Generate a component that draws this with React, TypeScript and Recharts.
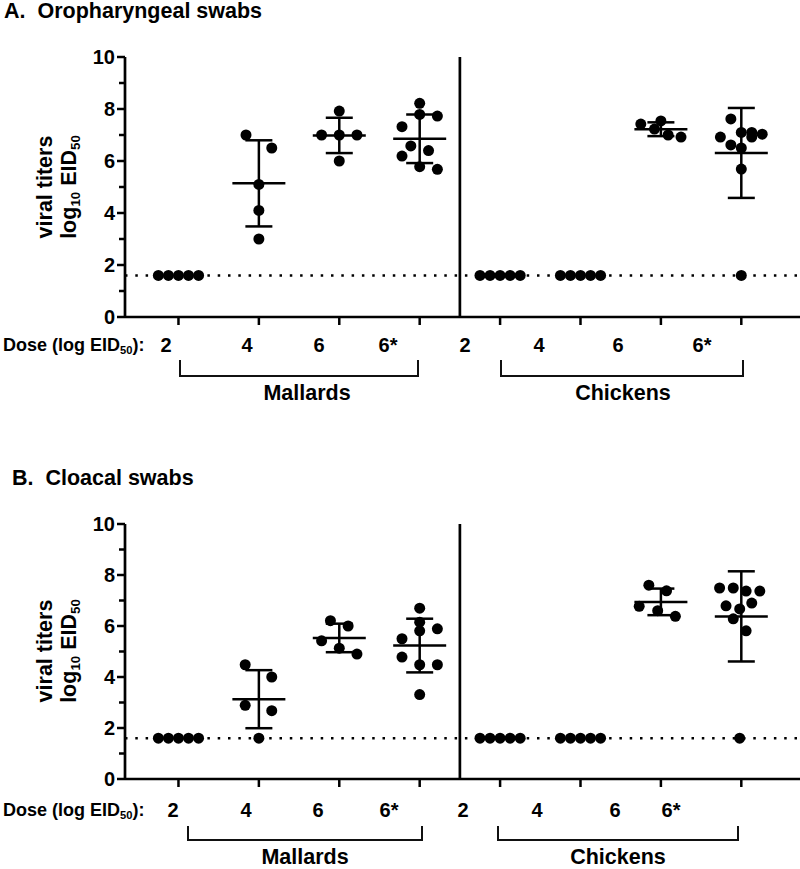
// Viral titers per dose group — two Recharts scatter panels (oropharyngeal / cloacal).
import { ScatterChart, Scatter, XAxis, YAxis, ReferenceLine, ErrorBar } from "recharts";
import type { ReactNode } from "react";

const doseLabels = ["2", "4", "6", "6*", "2", "4", "6", "6*"];
const groupTicks = [0, 1, 2, 3, 4, 5, 6, 7];
const yTicks = [0, 1, 2, 3, 4, 5, 6, 7, 8, 9, 10];
const detectionLimit = 1.6;
const speciesDivider = 3.5;

// A. oropharyngeal swabs, one list per group (mallards 2,4,6,6* then chickens 2,4,6,6*)
const opValues: number[][] = [
  [1.6, 1.6, 1.6, 1.6, 1.6],
  [7.0, 6.5, 5.1, 4.1, 3.0],
  [7.0, 7.0, 7.0, 7.92, 6.0],
  [8.22, 7.79, 7.73, 7.32, 6.58, 6.4, 6.19, 5.78, 5.68],
  [1.6, 1.6, 1.6, 1.6, 1.6],
  [1.6, 1.6, 1.6, 1.6, 1.6],
  [7.42, 7.54, 7.23, 7.0, 6.92],
  [7.62, 6.92, 7.1, 7.1, 7.03, 6.92, 6.62, 6.5, 5.69, 1.6],
];
// horizontal scatter of the dots inside a group (category units)
const opOffsets: number[][] = [
  [-0.25, -0.125, 0, 0.125, 0.25],
  [-0.16, 0.16, 0, 0, 0],
  [-0.22, 0, 0.22, 0, 0],
  [0, 0, 0.22, -0.22, -0.11, 0.11, -0.22, 0, 0.22],
  [-0.25, -0.125, 0, 0.125, 0.25],
  [-0.25, -0.125, 0, 0.125, 0.25],
  [-0.25, 0, -0.08, 0.09, 0.25],
  [-0.13, -0.26, 0, 0.13, 0.26, 0.13, -0.13, 0, 0, 0],
];

// B. cloacal swabs
const clValues: number[][] = [
  [1.6, 1.6, 1.6, 1.6, 1.6],
  [4.48, 4.0, 2.89, 2.68, 1.6],
  [6.21, 6.0, 5.42, 5.13, 4.9],
  [6.7, 6.15, 5.81, 5.89, 5.5, 4.78, 4.48, 4.48, 3.31],
  [1.6, 1.6, 1.6, 1.6, 1.6],
  [1.6, 1.6, 1.6, 1.6, 1.6],
  [7.6, 7.38, 6.77, 6.6, 6.38],
  [7.49, 7.49, 7.37, 7.37, 6.79, 6.67, 6.9, 6.28, 5.81, 1.6],
];
const clOffsets: number[][] = [
  [-0.25, -0.125, 0, 0.125, 0.25],
  [-0.17, 0.16, -0.17, 0.16, 0],
  [-0.11, 0.11, -0.22, 0, 0.22],
  [0, 0, 0, 0.22, -0.22, -0.22, 0, 0.22, 0],
  [-0.25, -0.125, 0, 0.125, 0.25],
  [-0.25, -0.125, 0, 0.125, 0.25],
  [-0.15, 0.07, -0.27, -0.04, 0.18],
  [-0.27, -0.1, 0.06, 0.23, -0.19, -0.02, 0.13, -0.1, 0.06, -0.02],
];

const FONT = "'Liberation Sans', Arial, Helvetica, sans-serif";

function toPoints(values: number[][], offsets: number[][]) {
  return values.flatMap((vals, g) => vals.map((v, i) => ({ x: g + offsets[g][i], y: v })));
}

// mean ± SD per group; groups that are all at the detection limit get no bars
function toSummary(values: number[][]) {
  return values
    .map((vals, g) => {
      const n = vals.length;
      const mean = vals.reduce((a, b) => a + b, 0) / n;
      const sd = Math.sqrt(vals.reduce((a, b) => a + (b - mean) ** 2, 0) / (n - 1));
      return { x: g, y: mean, sd };
    })
    .filter((d) => d.sd > 0);
}

function YTick(props: any) {
  const { x, y, payload } = props;
  const axisX = x + 10;
  const major = payload.value % 2 === 0;
  return (
    <g>
      <line x1={axisX - (major ? 8 : 6)} x2={axisX} y1={y} y2={y} stroke="#000" strokeWidth={2.5} />
      {major && (
        <text x={x} y={y} dy="0.36em" textAnchor="end" fontFamily={FONT} fontWeight="bold" fontSize={20} fill="#000">
          {payload.value}
        </text>
      )}
    </g>
  );
}

function Dot(props: any) {
  return <circle cx={props.cx} cy={props.cy} r={5.5} fill="#000" />;
}

function MeanLine(props: any) {
  return <line x1={props.cx - 26.5} x2={props.cx + 26.5} y1={props.cy} y2={props.cy} stroke="#000" strokeWidth={2.5} />;
}

function Panel({ top, plotHeight, values, offsets }: { top: number; plotHeight: number; values: number[][]; offsets: number[][] }) {
  return (
    <div style={{ position: "absolute", left: 0, top }}>
      <ScatterChart width={800} height={plotHeight + 30} margin={{ top: 10, right: 0, bottom: 0, left: 0 }}>
        <XAxis
          type="number"
          dataKey="x"
          domain={[-0.665, 7.73]}
          ticks={groupTicks}
          allowDataOverflow
          height={20}
          tickSize={8}
          tickFormatter={() => ""}
          axisLine={{ stroke: "#000", strokeWidth: 2.7 }}
          tickLine={{ stroke: "#000", strokeWidth: 2.5 }}
        />
        <YAxis
          type="number"
          dataKey="y"
          domain={[0, 10]}
          ticks={yTicks}
          width={125}
          tickSize={8}
          tickMargin={2}
          tickLine={false}
          tick={<YTick />}
          axisLine={{ stroke: "#000", strokeWidth: 2.7 }}
        />
        <ReferenceLine y={detectionLimit} stroke="#000" strokeWidth={2.5} strokeDasharray="2.5 7.8" />
        <ReferenceLine x={speciesDivider} stroke="#000" strokeWidth={2.7} />
        <Scatter data={toPoints(values, offsets)} shape={<Dot />} isAnimationActive={false} />
        <Scatter data={toSummary(values)} shape={<MeanLine />} isAnimationActive={false}>
          <ErrorBar dataKey="sd" direction="y" width={13.5} stroke="#000" strokeWidth={2.5} isAnimationActive={false} />
        </Scatter>
      </ScatterChart>
    </div>
  );
}

function Txt({ x, y, size, children, center = true }: { x: number; y: number; size: number; children: ReactNode; center?: boolean }) {
  return (
    <div
      style={{
        position: "absolute",
        left: x,
        top: y,
        fontSize: size,
        lineHeight: 1,
        whiteSpace: "pre",
        transform: center ? "translate(-50%, -50%)" : "translate(0, -50%)",
      }}
    >
      {children}
    </div>
  );
}

const Sub = ({ children }: { children: ReactNode }) => (
  <span style={{ fontSize: "0.62em", position: "relative", top: "0.3em" }}>{children}</span>
);

function Bracket({ left, right, top, bottom }: { left: number; right: number; top: number; bottom: number }) {
  return (
    <div
      style={{
        position: "absolute",
        left,
        top,
        width: right - left - 2,
        height: bottom - top - 2,
        borderLeft: "2px solid #111",
        borderRight: "2px solid #111",
        borderBottom: "2px solid #111",
      }}
    />
  );
}

function DoseRow({ y, xs, brackets, labelY, labelXs }: { y: number; xs: number[]; brackets: [number, number, number, number][]; labelY: number; labelXs: number[] }) {
  return (
    <>
      <Txt x={3} y={y} size={18} center={false}>
        Dose (log EID<Sub>50</Sub>):
      </Txt>
      {doseLabels.map((d, i) => (
        <Txt key={i} x={xs[i]} y={y} size={20}>
          {d}
        </Txt>
      ))}
      {brackets.map((b, i) => (
        <Bracket key={i} left={b[0]} right={b[1]} top={b[2]} bottom={b[3]} />
      ))}
      <Txt x={labelXs[0]} y={labelY} size={21.5}>
        Mallards
      </Txt>
      <Txt x={labelXs[1]} y={labelY} size={21.5}>
        Chickens
      </Txt>
    </>
  );
}

function YLabel({ y }: { y: number }) {
  return (
    <div
      style={{
        position: "absolute",
        left: 58,
        top: y,
        fontSize: 21.5,
        lineHeight: "24px",
        textAlign: "center",
        whiteSpace: "nowrap",
        transform: "translate(-50%, -50%) rotate(-90deg)",
      }}
    >
      <div>viral titers</div>
      <div>
        log<Sub>10</Sub> EID<Sub>50</Sub>
      </div>
    </div>
  );
}

export default function App() {
  return (
    <div
      style={{
        position: "absolute",
        left: 0,
        top: 0,
        width: 800,
        height: 869,
        background: "#fff",
        fontFamily: FONT,
        fontWeight: "bold",
        color: "#000",
        overflow: "hidden",
      }}
    >
      <Txt x={4} y={12} size={21.5} center={false}>
        {"A.  Oropharyngeal swabs"}
      </Txt>
      <YLabel y={187} />
      <Panel top={47} plotHeight={260} values={opValues} offsets={opOffsets} />
      <DoseRow
        y={345}
        xs={[166, 247, 319, 388, 465, 539, 618, 702]}
        brackets={[
          [179, 417, 360, 377],
          [500, 742, 360, 377],
        ]}
        labelY={394}
        labelXs={[307, 623]}
      />

      <Txt x={12} y={479} size={21.5} center={false}>
        {"B.  Cloacal swabs"}
      </Txt>
      <YLabel y={651} />
      <Panel top={514} plotHeight={255} values={clValues} offsets={clOffsets} />
      <DoseRow
        y={810}
        xs={[173, 246, 318, 389, 463, 537, 615, 671]}
        brackets={[
          [187, 421, 826, 841],
          [497, 737, 826, 841],
        ]}
        labelY={858}
        labelXs={[305, 618]}
      />
    </div>
  );
}
